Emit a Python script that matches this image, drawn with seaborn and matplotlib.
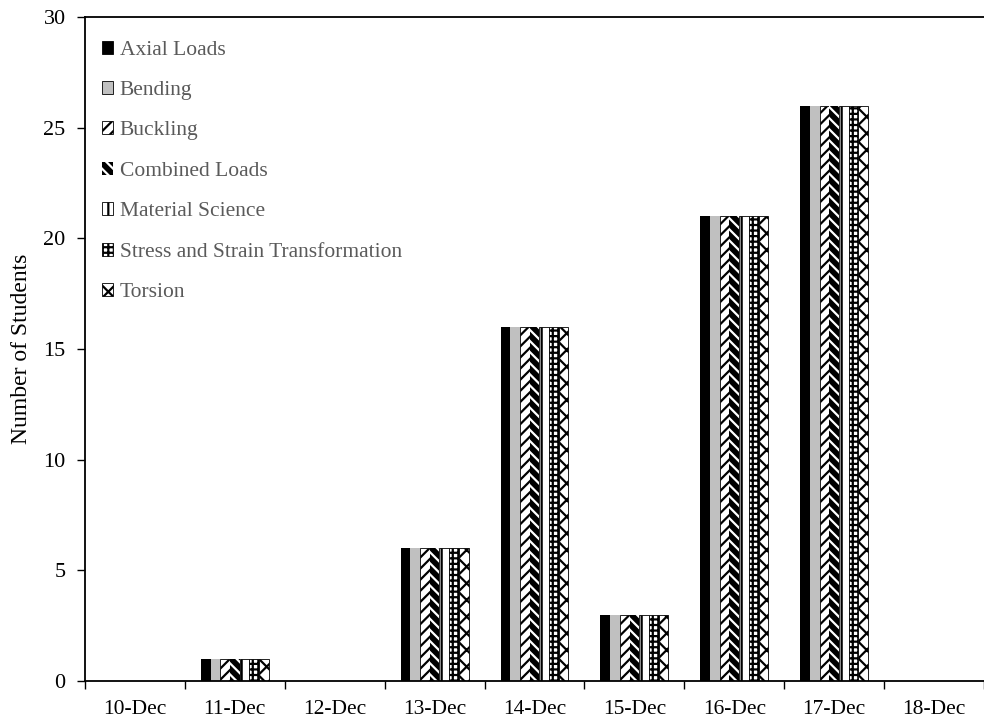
import numpy as np
import pandas as pd
import matplotlib
matplotlib.use("Agg")
import matplotlib.pyplot as plt
from matplotlib.patches import Patch
import seaborn as sns

dates = ["10-Dec", "11-Dec", "12-Dec", "13-Dec", "14-Dec", "15-Dec", "16-Dec", "17-Dec", "18-Dec"]
topics = ["Axial Loads", "Bending", "Buckling", "Combined Loads",
          "Material Science", "Stress and Strain Transformation", "Torsion"]
axial = [0, 1, 0, 6, 16, 3, 21, 26, 0]
bending = [0, 1, 0, 6, 16, 3, 21, 26, 0]
buckling = [0, 1, 0, 6, 16, 3, 21, 26, 0]
combined = [0, 1, 0, 6, 16, 3, 21, 26, 0]
material = [0, 1, 0, 6, 16, 3, 21, 26, 0]
stress = [0, 1, 0, 6, 16, 3, 21, 26, 0]
torsion = [0, 1, 0, 6, 16, 3, 21, 26, 0]
y_ticks = [0, 5, 10, 15, 20, 25, 30]

series = [axial, bending, buckling, combined, material, stress, torsion]
df = pd.DataFrame({
    "Date": np.repeat([dates], len(topics), axis=0).ravel(),
    "Topic": np.repeat(topics, len(dates)),
    "Students": np.concatenate(series),
})

sns.set_theme(style="white")
plt.rcParams["font.family"] = ["Liberation Serif", "DejaVu Serif"]
plt.rcParams["hatch.linewidth"] = 1.6

fig = plt.figure(figsize=(9.84, 7.24), dpi=100)
ax = fig.add_axes([0.0864, 0.0594, 0.9136, 0.9171])

sns.barplot(data=df, x="Date", y="Students", hue="Topic", order=dates,
            hue_order=topics, width=0.68, gap=0, dodge=True, ax=ax,
            palette=["black"] * 7, saturation=1, legend=False)

# fill styles for each topic: (face, hatch, edge, linewidth)
styles = [
    ("black", None, "black", 0.0),
    ("#c0c0c0", None, "black", 0.0),
    ("white", "///", "black", 0.6),
    ("black", "\\\\\\", "white", 0.0),
    ("white", "|", "black", 0.6),
    ("white", "+++", "black", 0.6),
    ("white", "xx", "black", 0.6),
]
for cont, (fc, h, ec, lw) in zip(ax.containers, styles):
    for p in cont:
        p.set_facecolor(fc)
        p.set_hatch(h)
        p.set_edgecolor(ec)
        p.set_linewidth(lw)

handles = []
for t, (fc, h, ec, lw) in zip(topics, styles):
    if fc == "black" and h:
        hd = Patch(facecolor=fc, hatch=h, edgecolor="white", linewidth=0, label=t)
    else:
        hd = Patch(facecolor=fc, hatch=h, edgecolor="black", linewidth=0.6, label=t)
    handles.append(hd)

leg = ax.legend(handles=handles, loc="upper left", frameon=False,
                fontsize=15.5, handlelength=0.55, handleheight=0.55,
                handletextpad=0.3, labelspacing=0.99,
                bbox_to_anchor=(0.004, 0.984), borderaxespad=0.2)
for txt in leg.get_texts():
    txt.set_color("#5a5a5a")

ax.set_xlim(-0.5, len(dates) - 0.5)
ax.set_ylim(0, 30)
ax.set_yticks(y_ticks)
ax.set_yticklabels([str(v) for v in y_ticks], fontsize=16)

# category boundaries carry the tick marks, centres carry the labels
ax.set_xticks(np.arange(-0.5, len(dates), 1.0))
ax.set_xticklabels([])
ax.set_xticks(np.arange(len(dates)), minor=True)
ax.set_xticklabels(dates, minor=True, fontsize=15.5)
ax.tick_params(axis="x", which="major", direction="out", length=6, width=1,
               color="black", bottom=True)
ax.tick_params(axis="x", which="minor", length=0, pad=14, labelcolor="black")
ax.tick_params(axis="y", direction="out", length=6, width=1, color="black",
               left=True, pad=8, labelcolor="black")

ax.set_xlabel("")
ax.set_ylabel("Number of Students", fontsize=17, color="black", labelpad=8)

for s in ["left", "top", "bottom"]:
    ax.spines[s].set_visible(True)
    ax.spines[s].set_color("black")
    ax.spines[s].set_linewidth(1.3)
ax.spines["right"].set_visible(False)

fig.savefig("out.png", dpi=100, facecolor="white")
